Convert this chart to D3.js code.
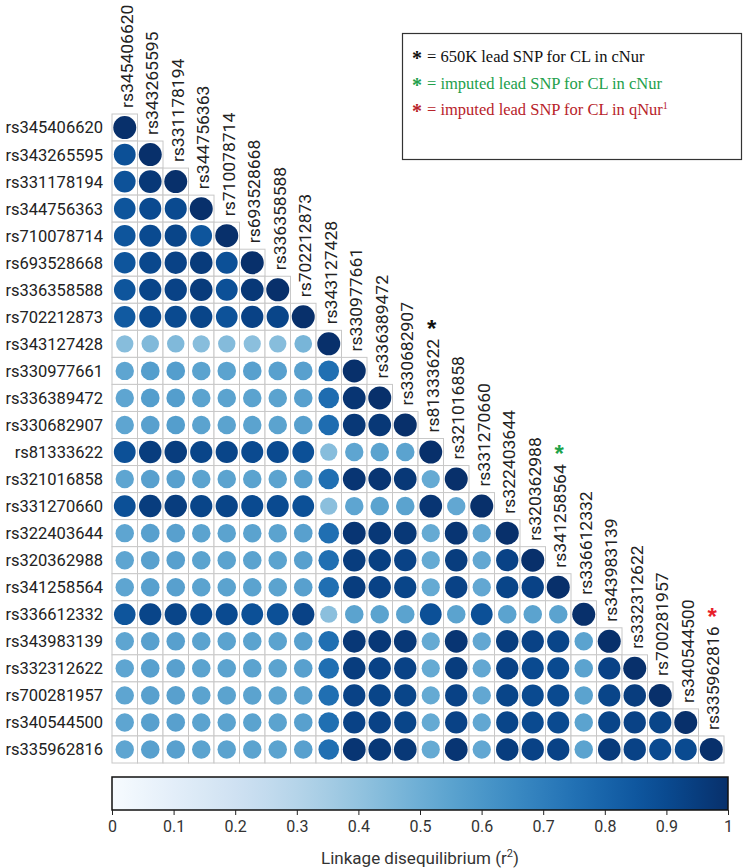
<!DOCTYPE html>
<html><head><meta charset="utf-8">
<script src="https://cdn.jsdelivr.net/npm/d3@7"></script>
<style>body{margin:0;background:#fff}svg{display:block}</style>
</head><body>
<svg id="c" width="750" height="868"></svg>
<script>
// ---------- DATA ----------
const snps = ["rs345406620","rs343265595","rs331178194","rs344756363","rs710078714","rs693528668",
  "rs336358588","rs702212873","rs343127428","rs330977661","rs336389472","rs330682907","rs81333622",
  "rs321016858","rs331270660","rs322403644","rs320362988","rs341258564","rs336612332","rs343983139",
  "rs332312622","rs700281957","rs340544500","rs335962816"];

// lower-triangular r^2 values, row i has i+1 entries (columns 0..i)
const ldRows = [
  [1],
  [0.88,1],
  [0.87,0.97,1],
  [0.86,0.90,0.90,1],
  [0.86,0.90,0.92,0.86,1],
  [0.86,0.91,0.93,0.96,0.88,1],
  [0.86,0.92,0.93,0.96,0.88,0.97,1],
  [0.84,0.90,0.90,0.92,0.87,0.93,0.92,1],
  [0.43,0.45,0.45,0.43,0.44,0.42,0.43,0.47,1],
  [0.54,0.57,0.57,0.55,0.55,0.56,0.56,0.56,0.76,1],
  [0.54,0.57,0.57,0.55,0.55,0.55,0.55,0.56,0.77,0.98,1],
  [0.54,0.56,0.57,0.55,0.55,0.55,0.55,0.56,0.77,0.97,0.97,1],
  [0.88,0.95,0.95,0.92,0.92,0.90,0.90,0.88,0.43,0.54,0.55,0.55,1],
  [0.54,0.56,0.56,0.55,0.55,0.55,0.55,0.56,0.76,0.98,0.98,0.97,0.52,1],
  [0.88,0.95,0.95,0.92,0.92,0.90,0.90,0.88,0.42,0.54,0.55,0.55,0.98,0.53,1],
  [0.54,0.56,0.56,0.55,0.55,0.55,0.55,0.56,0.76,0.98,0.97,0.97,0.52,0.98,0.53,1],
  [0.54,0.56,0.56,0.55,0.55,0.55,0.55,0.56,0.76,0.95,0.94,0.93,0.52,0.95,0.53,0.93,1],
  [0.54,0.56,0.56,0.55,0.55,0.55,0.55,0.56,0.76,0.95,0.93,0.92,0.52,0.93,0.53,0.92,0.93,1],
  [0.86,0.92,0.92,0.90,0.90,0.88,0.88,0.93,0.42,0.55,0.55,0.55,0.88,0.55,0.88,0.55,0.55,0.55,1],
  [0.54,0.56,0.56,0.55,0.55,0.55,0.55,0.56,0.76,0.97,0.97,0.97,0.52,0.98,0.53,0.95,0.93,0.92,0.55,1],
  [0.54,0.56,0.56,0.55,0.55,0.55,0.55,0.56,0.76,0.95,0.93,0.93,0.52,0.95,0.53,0.93,0.90,0.90,0.55,0.93,1],
  [0.54,0.56,0.56,0.55,0.55,0.55,0.55,0.56,0.76,0.93,0.92,0.92,0.52,0.93,0.53,0.92,0.90,0.90,0.55,0.92,0.95,1],
  [0.54,0.56,0.56,0.55,0.55,0.55,0.55,0.56,0.76,0.93,0.93,0.92,0.52,0.93,0.53,0.92,0.90,0.90,0.55,0.92,0.93,0.92,1],
  [0.54,0.56,0.56,0.55,0.55,0.55,0.55,0.56,0.76,0.98,0.97,0.97,0.52,0.98,0.53,0.95,0.93,0.93,0.55,0.96,0.93,0.90,0.90,1]
];

const markedSnps = ["rs81333622","rs341258564","rs335962816"];
const markerColors = ["#111111","#1ea34a","#e8202a"];
const legendTexts = ["= 650K lead SNP for CL in cNur","= imputed lead SNP for CL in cNur","= imputed lead SNP for CL in qNur"];
const legendColors = ["#111111","#22a04b","#b8232a"];
const colorTicks = [0,0.1,0.2,0.3,0.4,0.5,0.6,0.7,0.8,0.9,1];
const colorTitle = "Linkage disequilibrium (r";

// ---------- CHART ----------
const svg = d3.select("#c");
const x = d3.scaleBand().domain(snps).range([112,724]);
const y = d3.scaleBand().domain(snps).range([114,763]);
const color = d3.scaleSequential(d3.interpolateBlues).domain([0,1]);
const rScale = d3.scaleLinear().domain([0,1]).range([6.5,11.5]);
const stretch = y.bandwidth()/x.bandwidth();

const cells = [];
ldRows.forEach((row,i)=>row.forEach((v,j)=>cells.push({i,j,v})));

const g = svg.append("g");
g.selectAll("rect.cell").data(cells).join("rect")
  .attr("class","cell")
  .attr("x",d=>x(snps[d.j])).attr("y",d=>y(snps[d.i]))
  .attr("width",x.bandwidth()).attr("height",y.bandwidth())
  .attr("fill","#fff").attr("stroke","#c8c8c8").attr("stroke-width",1);

g.selectAll("circle").data(cells).join("circle")
  .attr("cx",d=>x(snps[d.j])+x.bandwidth()/2)
  .attr("cy",d=>y(snps[d.i])+y.bandwidth()/2)
  .attr("r",d=>rScale(d.v))
  .attr("fill",d=>color(d.v));

// row labels
svg.append("g").selectAll("text").data(snps).join("text")
  .attr("x",103).attr("y",d=>y(d)+y.bandwidth()/2)
  .attr("dy","0.36em").attr("text-anchor","end")
  .attr("font-family","Roboto, 'Noto Sans', sans-serif").attr("font-size",16.5)
  .attr("fill","#222").text(d=>d);

// column labels
const colLab = svg.append("g").selectAll("text").data(snps).join("text")
  .attr("transform",d=>`translate(${x(d)+x.bandwidth()/2+2},${y(d)-6}) scale(1,${stretch}) rotate(-90)`)
  .attr("dy","0.36em").attr("text-anchor","start")
  .attr("font-family","Roboto, 'Noto Sans', sans-serif").attr("font-size",16.5)
  .attr("fill","#222").text(d=>d);

// asterisks for lead SNPs
colLab.each(function(d){
  const k = markedSnps.indexOf(d);
  if(k<0) return;
  const L = this.getComputedTextLength()*stretch;
  const top = y(d)-6-L;
  const cy = top-15;
  svg.append("text")
    .attr("x",x(d)+x.bandwidth()/2+1).attr("y",cy+13)
    .attr("text-anchor","middle")
    .attr("font-family","'Liberation Sans', Arial, sans-serif").attr("font-weight","bold")
    .attr("font-size",24).attr("fill",markerColors[k]).text("*");
});

// legend box
const lg = svg.append("g");
lg.append("rect").attr("x",402.5).attr("y",33.5).attr("width",339).attr("height",126)
  .attr("fill","#fff").attr("stroke","#333").attr("stroke-width",1.2);
legendTexts.forEach((t,k)=>{
  const by = 62 + k*26.5;
  lg.append("text").attr("x",417).attr("y",by+3)
    .attr("text-anchor","middle")
    .attr("font-family","'Liberation Serif', 'Times New Roman', serif").attr("font-weight","bold")
    .attr("font-size",20).attr("fill",legendColors[k]).text("*");
  const tx = lg.append("text").attr("x",427).attr("y",by)
    .attr("font-family","'Liberation Serif', 'Times New Roman', serif")
    .attr("font-size",16.5).attr("fill",legendColors[k]).text(t);
  if(k===2) tx.append("tspan").attr("font-size",10).attr("dy",-6).text("1");
});

// colorbar
const cb = {x0:112,x1:728,y0:777,y1:810};
const defs = svg.append("defs");
const grad = defs.append("linearGradient").attr("id","gb");
d3.range(0,1.0001,0.05).forEach(t=>grad.append("stop").attr("offset",t).attr("stop-color",color(t)));
svg.append("rect").attr("x",cb.x0).attr("y",cb.y0).attr("width",cb.x1-cb.x0).attr("height",cb.y1-cb.y0)
  .attr("fill","url(#gb)").attr("stroke","#111").attr("stroke-width",1.5);
const cx = d3.scaleLinear().domain([0,1]).range([cb.x0,cb.x1]);
const ax = svg.append("g").attr("transform",`translate(0,${cb.y1})`)
  .call(d3.axisBottom(cx).tickValues(colorTicks).tickSize(5).tickFormat(d3.format("")));
ax.select(".domain").remove();
ax.selectAll(".tick line").attr("stroke","#222");
ax.selectAll(".tick text").attr("font-family","Roboto, 'Noto Sans', sans-serif").attr("font-size",16)
  .attr("fill","#333").attr("dy","0.85em");
const tt = svg.append("text").attr("x",(cb.x0+cb.x1)/2).attr("y",864).attr("text-anchor","middle")
  .attr("font-family","Roboto, 'Noto Sans', sans-serif").attr("font-size",17).attr("fill","#333")
  .text(colorTitle);
tt.append("tspan").attr("font-size",11).attr("dy",-7).text("2");
tt.append("tspan").attr("dy",7).text(")");
</script>
</body></html>
